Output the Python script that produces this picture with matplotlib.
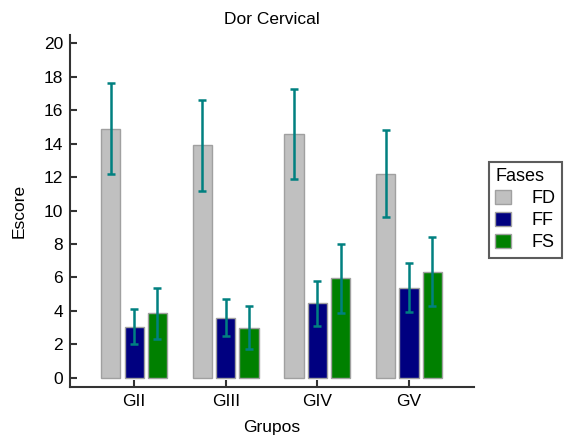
import numpy as np
import matplotlib
matplotlib.use('Agg')
import matplotlib.pyplot as plt

plt.rcParams['font.family'] = ['Liberation Sans', 'DejaVu Sans']

groups = ['GII', 'GIII', 'GIV', 'GV']
phases = ['FD', 'FF', 'FS']
fd_mean = [14.9, 13.9, 14.6, 12.2]
fd_sd = [2.7, 2.7, 2.7, 2.6]
ff_mean = [3.05, 3.6, 4.45, 5.4]
ff_sd = [1.05, 1.13, 1.33, 1.47]
fs_mean = [3.85, 3.0, 5.95, 6.35]
fs_sd = [1.5, 1.27, 2.05, 2.08]

colors = ['#c0c0c0', '#000080', '#008000']
err_color = '#008080'
axis_color = '#333333'

fig = plt.figure(figsize=(5.64, 4.43), dpi=100)
ax = fig.add_axes([70 / 564, 56 / 443, 404 / 564, 352 / 443])

x = np.arange(len(groups))
offset = 0.254
width = 0.21
series = [(fd_mean, fd_sd), (ff_mean, ff_sd), (fs_mean, fs_sd)]
for i, (m, s) in enumerate(series):
    ax.bar(x + (i - 1) * offset, m, width, color=colors[i], edgecolor='#a0a0a0',
           linewidth=1, label=phases[i], zorder=2)
    ax.errorbar(x + (i - 1) * offset, m, yerr=s, fmt='none', ecolor=err_color,
                elinewidth=1.8, capsize=2.8, capthick=1.8, zorder=3)

ax.set_xlim(-0.70, 3.71)
ax.set_ylim(-0.55, 20.5)
ax.set_yticks(range(0, 21, 2))
ax.set_xticks(x)
ax.set_xticklabels(groups)

for side in ['top', 'right']:
    ax.spines[side].set_visible(False)
for side in ['left', 'bottom']:
    ax.spines[side].set_color(axis_color)
    ax.spines[side].set_linewidth(1.5)
ax.tick_params(direction='in', length=5, width=1.5, color=axis_color,
               labelsize=12.5, pad=5)

ax.set_title('Dor Cervical', fontsize=12.5, pad=8)
ax.set_xlabel('Grupos', fontsize=12.5, labelpad=8)
ax.set_ylabel('Escore', fontsize=12.5, labelpad=12)

leg = ax.legend(title='Fases', loc='upper left',
                bbox_to_anchor=(489 / 564, 1 - 162 / 443),
                bbox_transform=fig.transFigure, borderaxespad=0,
                fancybox=False, fontsize=13, title_fontsize=13,
                handlelength=0.85, handleheight=0.85, handletextpad=1.15,
                labelspacing=0.25, borderpad=0.35)
leg._legend_box.align = 'left'
leg.get_frame().set_edgecolor(axis_color)
leg.get_frame().set_linewidth(1.5)

fig.savefig('out.png', dpi=100)
